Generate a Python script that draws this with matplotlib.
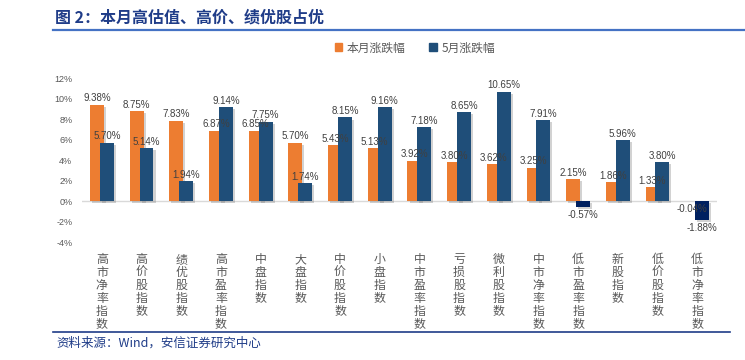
import matplotlib
matplotlib.use("Agg")
import matplotlib.pyplot as plt
import matplotlib.patheffects as pe
from matplotlib.lines import Line2D
from matplotlib.patches import Patch
import numpy as np

plt.rcParams['font.family'] = ['Noto Sans CJK SC', 'DejaVu Sans']

categories = ['高市净率指数', '高价股指数', '绩优股指数', '高市盈率指数', '中盘指数',
              '大盘指数', '中价股指数', '小盘指数', '中市盈率指数', '亏损股指数',
              '微利股指数', '中市净率指数', '低市盈率指数', '新股指数', '低价股指数',
              '低市净率指数']
this_month = [9.38, 8.75, 7.83, 6.87, 6.85, 5.70, 5.43, 5.13, 3.92, 3.80,
              3.62, 3.25, 2.15, 1.86, 1.33, -0.04]
may = [5.70, 5.14, 1.94, 9.14, 7.75, 1.74, 8.15, 9.16, 7.18, 8.65,
       10.65, 7.91, -0.57, 5.96, 3.80, -1.88]
series_names = ['本月涨跌幅', '5月涨跌幅']
yticks = [-4, -2, 0, 2, 4, 6, 8, 10, 12]

orange = '#ED7D31'
blue = '#1F4E79'
navy = '#002060'
label_gray = '#404040'
axis_gray = '#595959'
title_blue = '#1F3C88'

W, H = 745, 360
fig = plt.figure(figsize=(W / 100, H / 100), dpi=100)
ax = fig.add_axes([82 / W, 1 - 242 / H, 635 / W, 164 / H])

x = np.arange(len(categories))
width = 0.35
off = 0.125
shadow = [pe.SimplePatchShadow(offset=(1.5, -1.5), shadow_rgbFace='#7f7f7f', alpha=0.35), pe.Normal()]

b1 = ax.bar(x - off, this_month, width, color=orange, zorder=2)
b2 = ax.bar(x + off, may, width, color=[blue if v >= 0 else navy for v in may], zorder=3)
for b in list(b1) + list(b2):
    b.set_path_effects(shadow)

ax.axhline(0, color='#D9D9D9', lw=1, zorder=1)


def put_labels(xs, vals, z):
    for xi, v in zip(xs, vals):
        if v >= 0:
            ax.annotate(f'{v:.2f}%', (xi, v), xytext=(0, 1), textcoords='offset points',
                        ha='center', va='bottom', fontsize=7, color=label_gray,
                        family='Liberation Sans', zorder=z)
        else:
            ax.annotate(f'{v:.2f}%', (xi, v), xytext=(0, -2), textcoords='offset points',
                        ha='center', va='top', fontsize=7, color=label_gray,
                        family='Liberation Sans', zorder=z)


put_labels(x - off, this_month, 5)
put_labels(x + off, may, 6)

ax.set_xlim(-0.5, len(categories) - 0.5)
ax.set_ylim(-4, 12)
ax.set_yticks(yticks)
ax.set_yticklabels([f'{v}%' for v in yticks], family='Liberation Sans', fontsize=6.5, color=axis_gray)
ax.set_xticks(x)
ax.set_xticklabels(['\n'.join(c) for c in categories], fontsize=8.6, color=axis_gray,
                   linespacing=1.0, va='top')
ax.tick_params(axis='both', length=0)
ax.tick_params(axis='y', pad=7)
ax.tick_params(axis='x', pad=8)
for s in ax.spines.values():
    s.set_visible(False)

handles = [Patch(color=orange), Patch(color=blue)]
fig.legend(handles, series_names, loc='center', bbox_to_anchor=(415 / W, 1 - 48 / H), ncol=2,
           frameon=False, handlelength=0.65, handleheight=0.65, handletextpad=0.4,
           columnspacing=2.0, prop={'size': 8.5}, labelcolor=axis_gray)

fig.text(55 / W, 1 - 18 / H, '图 2：本月高估值、高价、绩优股占优', fontsize=11.5,
         weight='bold', color=title_blue, va='center', ha='left')
fig.add_artist(Line2D([53 / W, 1], [1 - 30 / H] * 2, color='#4472C4', lw=1.6))

fig.add_artist(Line2D([53 / W, 730 / W], [1 - 332 / H] * 2, color=title_blue, lw=1.2))
fig.text(56 / W, 1 - 343 / H, '资料来源：Wind，安信证券研究中心', fontsize=9,
         color=title_blue, style='italic', va='center', ha='left')

fig.savefig('out.png', dpi=100)
